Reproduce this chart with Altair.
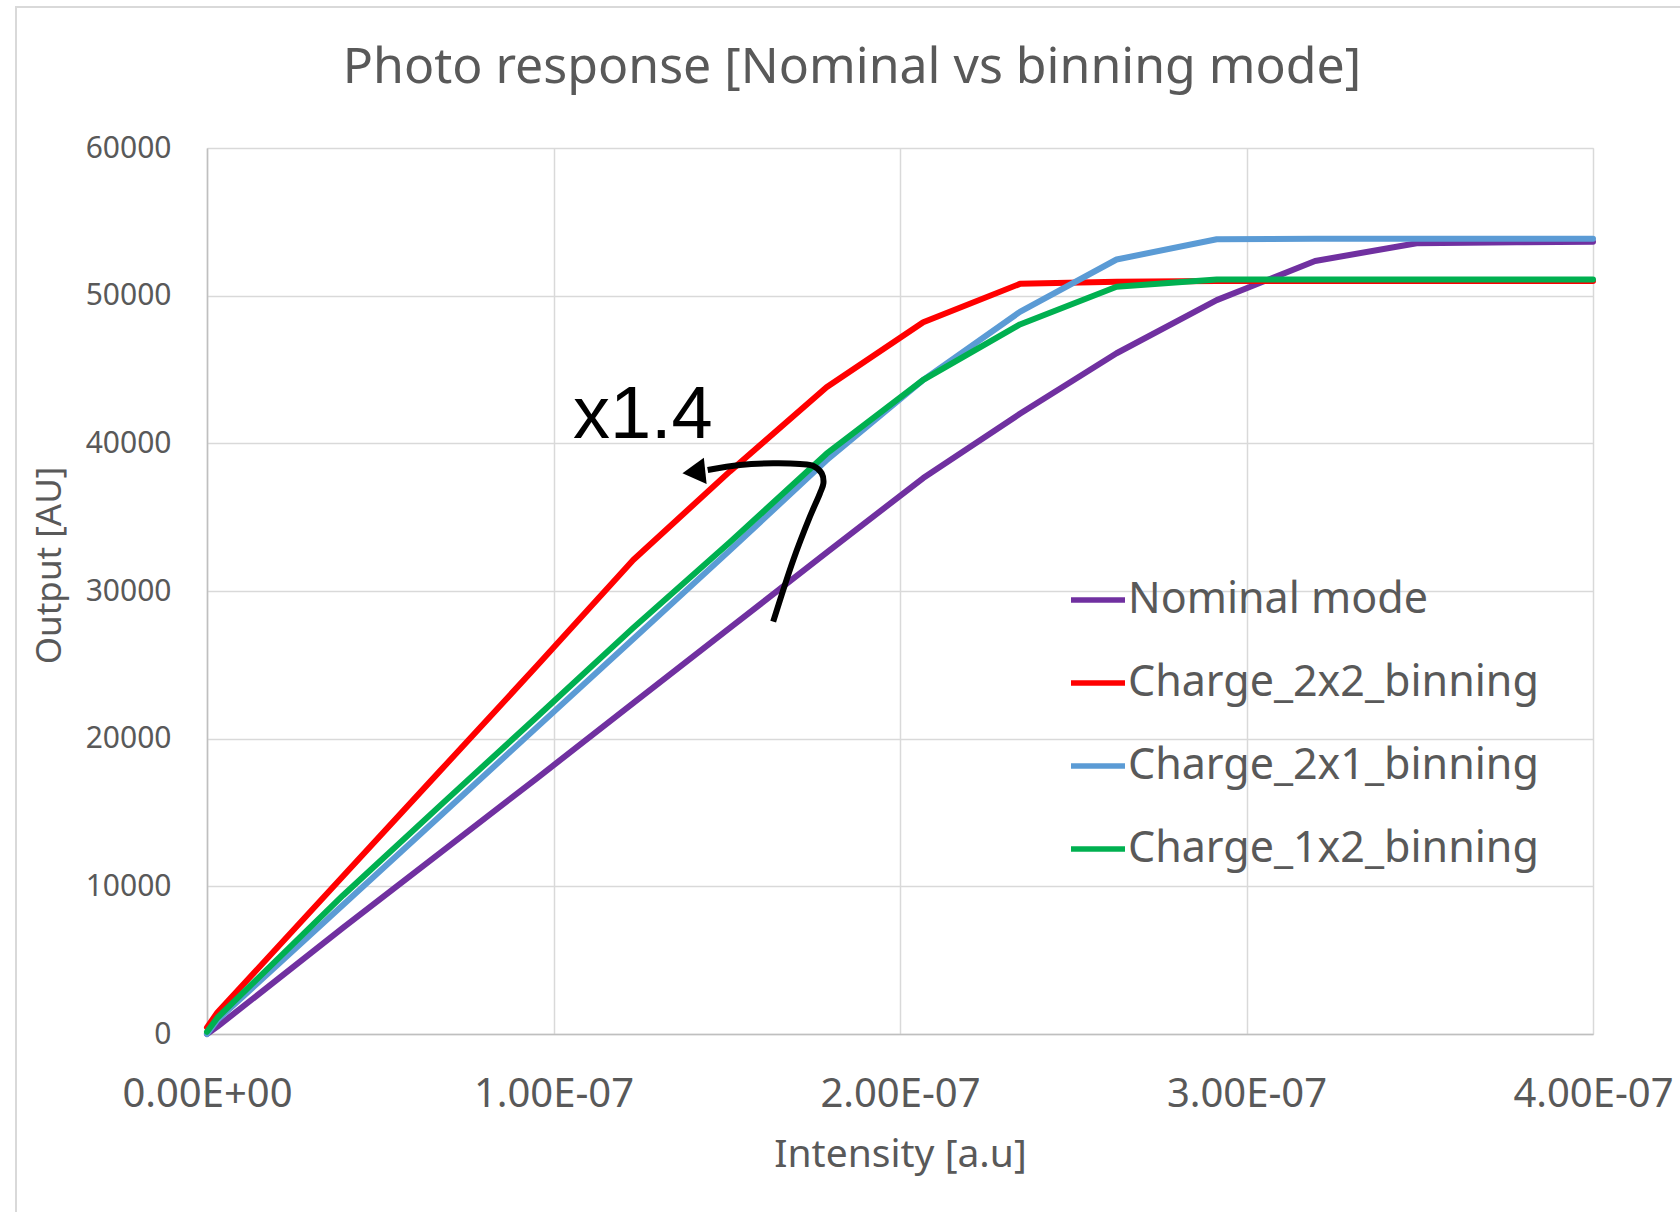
import json
import altair as alt
import pandas as pd

# ---------------- data ----------------
intensity_e7 = [0.0, 0.03, 0.393, 0.672, 0.951, 1.230, 1.509, 1.788, 2.067,
                2.346, 2.625, 2.914, 3.198, 3.491, 3.780, 4.000]
nominal_mode = [0, 500, 7200, 12250, 17300, 22400, 27500, 32600, 37650,
                42000, 46100, 49700, 52350, 53550, 53620, 53650]
charge_2x2 = [450, 1450, 10700, 17800, 24900, 32100, 38100, 43800, 48200,
              50800, 50950, 51000, 51000, 51000, 51000, 51000]
charge_2x1 = [0, 950, 8750, 14750, 20750, 26750, 32750, 38850, 44300,
              48900, 52450, 53820, 53850, 53850, 53850, 53850]
charge_1x2 = [150, 1100, 9400, 15450, 21450, 27500, 33300, 39300, 44300,
              48050, 50600, 51100, 51100, 51100, 51100, 51100]

series_names = ["Nominal mode", "Charge_2x2_binning", "Charge_2x1_binning", "Charge_1x2_binning"]
series_values = [nominal_mode, charge_2x2, charge_2x1, charge_1x2]
series_colors = ["#7030A0", "#FF0000", "#5B9BD5", "#00B050"]

x_ticks = [0, 1e-7, 2e-7, 3e-7, 4e-7]
x_tick_labels = ["0.00E+00", "1.00E-07", "2.00E-07", "3.00E-07", "4.00E-07"]
y_ticks = [0, 10000, 20000, 30000, 40000, 50000, 60000]

# annotation: curved arrow and "x1.4"
arrow_x_e7 = [1.634, 1.692, 1.740, 1.769, 1.779, 1.774, 1.750, 1.711, 1.634, 1.538, 1.445]
arrow_y = [27921, 32099, 35031, 36616, 37293, 37971, 38465, 38600, 38648, 38533, 38194]
arrow_head_x_e7 = [1.405]
arrow_head_y = [38059]
label_text = ["x1.4"]
label_x_e7 = [1.056]
label_y = [40361]

TEXT_GREY = "#595959"
FONT = "Noto Sans"

# ---------------- tables ----------------
rows = []
for name, vals in zip(series_names, series_values):
    for xi, yi in zip(intensity_e7, vals):
        rows.append({"series": name, "intensity": xi * 1e-7, "output": yi})
df = pd.DataFrame(rows)

arrow_df = pd.DataFrame({"intensity": [v * 1e-7 for v in arrow_x_e7],
                         "output": arrow_y,
                         "order": list(range(len(arrow_y)))})
head_df = pd.DataFrame({"intensity": [v * 1e-7 for v in arrow_head_x_e7],
                        "output": arrow_head_y})
label_df = pd.DataFrame({"intensity": [v * 1e-7 for v in label_x_e7],
                         "output": label_y, "text": label_text})
one_df = pd.DataFrame({"a": [0]})

label_expr = json.dumps(x_tick_labels) + "[round(datum.value*1e7)]"

x_enc = alt.X(
    "intensity:Q",
    scale=alt.Scale(domain=[0, 4e-7], nice=False, zero=False),
    axis=alt.Axis(
        values=x_ticks, labelExpr=label_expr, title="Intensity [a.u]",
        grid=True, gridColor="#D9D9D9", gridWidth=1.5,
        domain=True, domainColor="#BFBFBF", domainWidth=1.5,
        ticks=False, tickSize=0, labelPadding=40,
        labelFont=FONT, labelFontSize=40, labelColor=TEXT_GREY,
        labelBaseline="top", labelAlign="center", labelFlush=False, labelOverlap=False,
        titleFont=FONT, titleFontSize=39, titleColor=TEXT_GREY, titleFontWeight="normal",
        titleBaseline="alphabetic", titleY=132, titleAnchor="middle",
    ),
)
y_enc = alt.Y(
    "output:Q",
    scale=alt.Scale(domain=[0, 60000], nice=False),
    axis=alt.Axis(
        values=y_ticks, format="d", title="Output [AU]",
        grid=True, gridColor="#D9D9D9", gridWidth=1.5,
        domain=True, domainColor="#BFBFBF", domainWidth=1.5,
        ticks=False, tickSize=0, labelPadding=36,
        labelFont=FONT, labelFontSize=30, labelColor=TEXT_GREY,
        labelFlush=False, labelOverlap=False,
        titleFont=FONT, titleFontSize=35, titleColor=TEXT_GREY, titleFontWeight="normal",
        titleAngle=270, titleBaseline="middle", titleAlign="center",
        titleX=-158, titleY=417,
    ),
)

color_scale = alt.Scale(domain=series_names, range=series_colors)
legend = alt.Legend(
    title=None, orient="none", legendX=861, legendY=422,
    symbolType="stroke", symbolSize=2916, symbolStrokeWidth=5.5,
    labelFont=FONT, labelFontSize=43, labelColor=TEXT_GREY, labelLimit=1000,
    labelOffset=0, rowPadding=31, padding=0,
)

layers = []
for name in series_names:
    layers.append(
        alt.Chart(df[df["series"] == name])
        .mark_line(strokeWidth=6, strokeJoin="round", strokeCap="round")
        .encode(
            x=x_enc, y=y_enc,
            color=alt.Color("series:N", scale=color_scale, legend=legend),
        )
    )

arrow = alt.Chart(arrow_df).mark_line(
    color="black", strokeWidth=6, interpolate="catmull-rom", strokeCap="butt"
).encode(x="intensity:Q", y="output:Q", order="order:Q")

head = alt.Chart(head_df).mark_point(
    shape="triangle-left", size=700, filled=True, color="black", opacity=1, angle=354
).encode(x="intensity:Q", y="output:Q")

label = alt.Chart(label_df).mark_text(
    font="Liberation Sans", fontSize=74, color="black", align="left", baseline="alphabetic"
).encode(x="intensity:Q", y="output:Q", text="text:N")

border_top = alt.Chart(one_df).mark_rule(color="#D9D9D9", strokeWidth=2).encode(
    x=alt.value(-192), x2=alt.value(1473), y=alt.value(-141)
)
border_left = alt.Chart(one_df).mark_rule(color="#D9D9D9", strokeWidth=2).encode(
    x=alt.value(-191), y=alt.value(-141), y2=alt.value(1064)
)

chart = (
    alt.layer(border_top, border_left, *layers, arrow, head, label)
    .properties(
        width=1386, height=886,
        title=alt.TitleParams(
            "Photo response [Nominal vs binning mode]",
            font=FONT, fontSize=50, fontWeight="normal", color=TEXT_GREY,
            anchor="middle", dx=-48, offset=-87,
        ),
        autosize=alt.AutoSizeParams(type="none"),
        padding={"left": 207, "top": 148, "right": 87, "bottom": 178},
    )
    .configure_view(stroke=None)
    .configure(background="white")
)

chart.save("out.html", embed_options={"renderer": "svg", "actions": False})
